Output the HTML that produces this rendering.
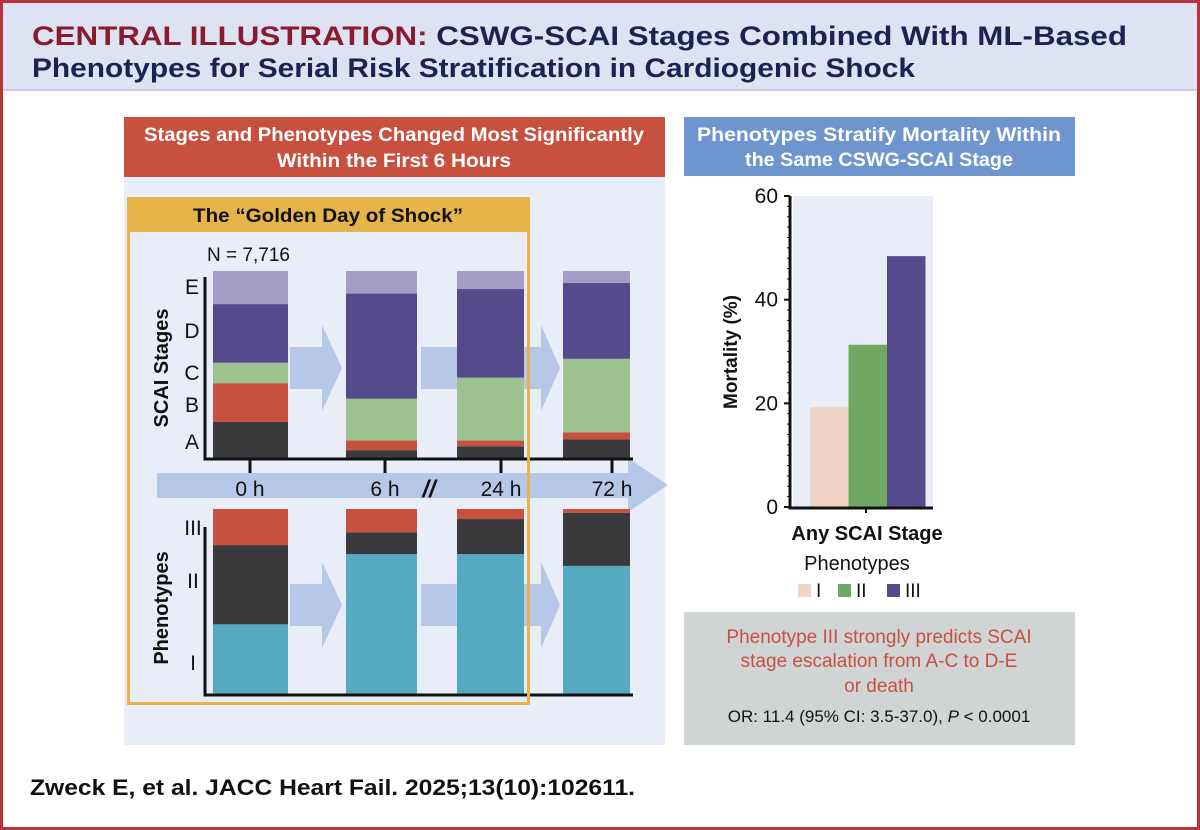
<!DOCTYPE html>
<html><head><meta charset="utf-8"><style>
html,body{margin:0;padding:0;background:#fff}
svg{display:block;font-family:"Liberation Sans",sans-serif}
</style></head><body>
<svg id="root" width="1200" height="830" viewBox="0 0 1200 830">
<rect x="1.5" y="1.5" width="1197" height="827" fill="#fff" stroke="#b8323a" stroke-width="3"/>
<rect x="3" y="3" width="1194" height="87" fill="#dde3f2"/>
<line x1="3" y1="90" x2="1197" y2="90" stroke="#c9cfdc" stroke-width="2"/>
<text x="32" y="45" font-size="27" font-weight="bold" fill="#1b2350" textLength="1095" lengthAdjust="spacingAndGlyphs"><tspan fill="#8a1a2e">CENTRAL ILLUSTRATION:</tspan> CSWG-SCAI Stages Combined With ML-Based</text>
<text x="32" y="77" font-size="27" font-weight="bold" fill="#1b2350" textLength="883" lengthAdjust="spacingAndGlyphs">Phenotypes for Serial Risk Stratification in Cardiogenic Shock</text>

<rect x="124" y="117" width="541" height="628" fill="#e8edf7"/>
<rect x="124" y="117" width="541" height="60" fill="#c8503e"/>
<text x="394" y="141" font-size="19" font-weight="bold" fill="#fff" text-anchor="middle" textLength="500" lengthAdjust="spacingAndGlyphs">Stages and Phenotypes Changed Most Significantly</text>
<text x="394" y="167" font-size="19" font-weight="bold" fill="#fff" text-anchor="middle" textLength="234" lengthAdjust="spacingAndGlyphs">Within the First 6 Hours</text>

<rect x="684" y="117" width="391" height="59" fill="#6f95cf"/>
<text x="879" y="141" font-size="19" font-weight="bold" fill="#fff" text-anchor="middle" textLength="364" lengthAdjust="spacingAndGlyphs">Phenotypes Stratify Mortality Within</text>
<text x="879" y="166" font-size="19" font-weight="bold" fill="#fff" text-anchor="middle" textLength="268" lengthAdjust="spacingAndGlyphs">the Same CSWG-SCAI Stage</text>

<g id="arrows">
<polygon points="157,473 628,473 628,458 668,485 628,512 628,498 157,498" fill="#b6c8e8"/>
</g>
<g id="left"></g>

<rect x="127" y="197" width="403" height="35" fill="#e6b54a"/>
<rect x="128.5" y="198.5" width="400" height="505" fill="none" stroke="#e6b54a" stroke-width="3"/>
<text x="328" y="222" font-size="19" font-weight="bold" fill="#111" text-anchor="middle" textLength="270" lengthAdjust="spacingAndGlyphs">The “Golden Day of Shock”</text>
<text x="207" y="261" font-size="19" fill="#111">N = 7,716</text>

<g id="right"></g>

<rect x="684" y="612" width="391" height="133" fill="#d1d4d5"/>
<text x="879" y="643" font-size="19" fill="#c8503e" text-anchor="middle">Phenotype III strongly predicts SCAI</text>
<text x="879" y="667" font-size="19" fill="#c8503e" text-anchor="middle">stage escalation from A-C to D-E</text>
<text x="879" y="692" font-size="19" fill="#c8503e" text-anchor="middle">or death</text>
<text x="879" y="722" font-size="17" fill="#111" text-anchor="middle">OR: 11.4 (95% CI: 3.5-37.0), <tspan font-style="italic">P</tspan> &lt; 0.0001</text>

<text x="30" y="795" font-size="22" font-weight="bold" fill="#111" textLength="605" lengthAdjust="spacingAndGlyphs">Zweck E, et al. JACC Heart Fail. 2025;13(10):102611.</text>
</svg>
<script>
const NS="http://www.w3.org/2000/svg";
const timepoints=["0 h","6 h","24 h","72 h"];
const stageNames=["A","B","C","D","E"];
const stageA=[19.7,4.7,6.8,10.4];
const stageB=[20.6,5.2,3.0,3.8];
const stageC=[10.9,22.2,33.5,39.1];
const stageD=[31.2,55.9,47.1,40.3];
const stageE=[17.6,12.0,9.6,6.4];
const phenoNames=["I","II","III"];
const phenoI=[38.0,75.8,75.8,69.4];
const phenoII=[42.6,11.7,18.8,28.6];
const phenoIII=[19.4,12.5,5.4,2.0];
const mortCats=["I","II","III"];
const mortVals=[19.3,31.3,48.4];
const mortTicks=[0,20,40,60];

function el(tag,attrs,parent){const e=document.createElementNS(NS,tag);for(const k in attrs)e.setAttribute(k,attrs[k]);parent.appendChild(e);return e;}
const L=document.getElementById('left');
const barX=[213,346,457,563], barW=[75,71,67,67];
function xBar(i){return barX[i];}
function arrowsAt(cy,list){list.forEach(a=>{const [x0,hx,x1]=a;
  const p=el('polygon',{points:`${x0},${cy-21} ${hx},${cy-21} ${hx},${cy-43} ${x1},${cy} ${hx},${cy+43} ${hx},${cy+21} ${x0},${cy+21}`,fill:'#b6c8e8'},L);
  
  });}
arrowsAt(368,[[290,322,342],[421,541,560]]);
arrowsAt(605,[[290,322,342],[421,541,560]]);

function stackChart(top,base,series,colors,names,name){
  const h=base-top;
  const yS=v=>h*v/100;
  timepoints.forEach((t,i)=>{let y=base;
    series.forEach((s,k)=>{const hh=yS(s[i]);y-=hh;
      const r=el('rect',{x:xBar(i),y:y,width:barW[i],height:hh,fill:colors[k]},L);
      
      
    });
  });
}
const topBase=459, topTop=271;
stackChart(topTop,topBase,[stageA,stageB,stageC,stageD,stageE],['#3a3a3c','#c8503e','#9dc28f','#544a8c','#a49dc6'],stageNames,'stage-segment');
const botBase=695, botTop=509;
stackChart(botTop,botBase,[phenoI,phenoII,phenoIII],['#55a9c0','#3a3a3c','#c8503e'],phenoNames,'phenotype-segment');
el('path',{d:`M205,277 V${topBase} H633`,stroke:'#111','stroke-width':3,fill:'none'},L);
el('path',{d:`M205,527 V${botBase} H633`,stroke:'#111','stroke-width':3,fill:'none'},L);
[250,385,501,612].forEach((x,i)=>{el('line',{x1:x,y1:topBase,x2:x,y2:473,stroke:'#111','stroke-width':3},L);
  const t=el('text',{x:x,y:496,'font-size':21,'text-anchor':'middle',fill:'#111'},L);t.textContent=timepoints[i];
  
  });
const br=el('text',{x:429,y:497,'font-size':24,'font-style':'italic','font-weight':'bold','text-anchor':'middle',fill:'#111'},L);br.textContent='//';
const stY=[441,404,372,330,286];
stageNames.forEach((n,i)=>{const t=el('text',{x:192,y:stY[i]+8,'font-size':21,'text-anchor':'middle',fill:'#111'},L);t.textContent=n;});
const phY=[662,580,527];
phenoNames.forEach((n,i)=>{const t=el('text',{x:193,y:phY[i]+8,'font-size':21,'text-anchor':'middle',fill:'#111'},L);t.textContent=n;});
let t1=el('text',{x:0,y:0,'font-size':20,'font-weight':'bold','text-anchor':'middle',fill:'#111',transform:'translate(168,368) rotate(-90)'},L);t1.textContent='SCAI Stages';

let t2=el('text',{x:0,y:0,'font-size':20,'font-weight':'bold','text-anchor':'middle',fill:'#111',transform:'translate(168,608) rotate(-90)'},L);t2.textContent='Phenotypes';


const R=document.getElementById('right');
const px0=793,px1=933,py0=507,py1=196;
const yM=v=>py0-(py0-py1)*v/60;
el('rect',{x:px0,y:py1,width:px1-px0,height:py0-py1,fill:'#e8edf7'},R);
const mColors=['#f2d5c6','#6ea862','#544a8c'];
mortCats.forEach((c,i)=>{const x=810+i*38.5;
  const r=el('rect',{x:x,y:yM(mortVals[i]),width:38.5,height:py0-yM(mortVals[i]),fill:mColors[i]},R);
  
  });
el('path',{d:`M790,${py1} V${py0+1} H933`,stroke:'#111','stroke-width':3,fill:'none'},R);
for(let v=0;v<=60;v+=2){el('line',{x1:787,x2:790,y1:yM(v),y2:yM(v),stroke:'#111','stroke-width':1},R);}
mortTicks.forEach(v=>{el('line',{x1:784,x2:790,y1:yM(v),y2:yM(v),stroke:'#111','stroke-width':2},R);
  const t=el('text',{x:778,y:yM(v)+7,'font-size':21,'text-anchor':'end',fill:'#111'},R);t.textContent=v;
  
  });
el('line',{x1:866,x2:866,y1:py0,y2:513,stroke:'#111','stroke-width':2},R);
let yt=el('text',{x:0,y:0,'font-size':19,'font-weight':'bold','text-anchor':'middle',fill:'#111',transform:'translate(737,352) rotate(-90)'},R);yt.textContent='Mortality (%)';

let xt=el('text',{x:867,y:540,'font-size':20,'font-weight':'bold','text-anchor':'middle',fill:'#111'},R);xt.textContent='Any SCAI Stage';

let lt=el('text',{x:857,y:570,'font-size':20,'text-anchor':'middle',fill:'#111'},R);lt.textContent='Phenotypes';

const lx=[798,838,887];
mortCats.forEach((c,i)=>{const r=el('rect',{x:lx[i],y:584,width:13,height:13,fill:mColors[i]},R);
  
  const t=el('text',{x:lx[i]+18,y:597,'font-size':19,fill:'#111'},R);t.textContent=c;
  
  });
</script>
</body></html>
